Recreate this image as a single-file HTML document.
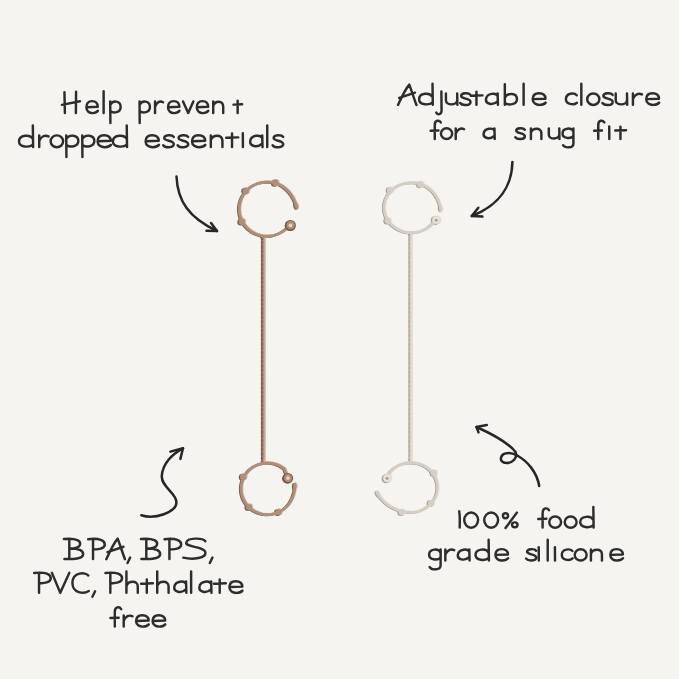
<!DOCTYPE html>
<html><head><meta charset="utf-8">
<style>
html,body{margin:0;padding:0;background:#f5f4f0;}
body{width:679px;height:679px;overflow:hidden;position:relative;font-family:"Liberation Sans",sans-serif;}
svg{position:absolute;left:0;top:0;}
</style></head><body>
<svg width="679" height="679" viewBox="0 0 679 679">
<g fill="none" stroke="#2d2d2d" stroke-linecap="round" stroke-linejoin="round">
<path d="M 64.45,92.20 L 64.89,113.00 M 76.06,91.75 L 75.89,113.00 M 61.88,104.86 L 79.94,101.24 M 86.94,107.16 L 97.78,106.73 C 97.60,102.26 94.59,101.11 92.02,101.11 C 88.14,101.11 86.42,103.98 86.42,107.41 C 86.42,111.28 89.44,113.20 92.62,113.10 C 95.02,113.00 96.92,112.14 97.86,110.77 M 103.63,91.32 L 103.63,113.00 M 110.22,101.40 L 110.40,123.00 M 110.22,104.84 C 112.63,99.96 120.63,100.44 120.63,106.99 C 120.63,113.00 113.06,113.50 110.40,110.85 M 139.53,101.40 L 139.70,123.00 M 139.53,104.84 C 141.93,99.96 149.93,100.44 149.93,106.99 C 149.93,113.00 142.36,113.50 139.70,110.85 M 155.03,101.40 L 155.03,113.00 M 155.03,106.99 C 156.57,102.26 160.01,100.44 163.02,102.26 M 168.54,107.16 L 179.38,106.73 C 179.21,102.26 176.19,101.11 173.62,101.11 C 169.75,101.11 168.03,103.98 168.03,107.41 C 168.03,111.28 171.03,113.20 174.22,113.10 C 176.62,113.00 178.52,112.14 179.46,110.77 M 183.03,101.40 L 188.19,113.00 L 193.34,101.40 M 197.34,107.16 L 208.18,106.73 C 208.00,102.26 204.99,101.11 202.41,101.11 C 198.54,101.11 196.82,103.98 196.82,107.41 C 196.82,111.28 199.83,113.20 203.02,113.10 C 205.42,113.00 207.32,112.14 208.26,110.77 M 213.22,101.40 L 213.22,113.00 M 213.22,106.13 C 214.77,100.44 223.20,99.96 223.20,106.56 L 223.20,113.00 M 237.65,100.80 L 237.65,113.00 M 233.53,104.60 L 242.12,104.20" stroke-width="2.45"/>
<path d="M 32.83,125.42 L 33.12,147.10 M 32.83,138.94 C 30.32,134.06 19.02,134.54 19.02,141.51 C 19.02,147.30 29.32,147.90 32.92,144.52 M 39.23,135.50 L 39.23,147.10 M 39.23,141.09 C 41.02,136.36 45.02,134.54 48.52,136.36 M 56.88,135.36 C 60.33,135.36 63.12,138.03 63.12,141.30 C 63.12,144.57 60.33,147.25 56.88,147.25 C 53.42,147.25 50.62,144.57 50.62,141.30 C 50.62,138.03 53.42,135.36 56.88,135.36 M 66.23,135.50 L 66.43,157.10 M 66.23,138.94 C 69.03,134.06 78.33,134.54 78.33,141.09 C 78.33,147.10 69.53,147.60 66.43,144.95 M 82.23,135.50 L 82.43,157.10 M 82.23,138.94 C 85.03,134.06 94.33,134.54 94.33,141.09 C 94.33,147.10 85.53,147.60 82.43,144.95 M 98.22,141.26 L 110.83,140.83 C 110.62,136.36 107.12,135.21 104.12,135.21 C 99.62,135.21 97.62,138.08 97.62,141.51 C 97.62,145.38 101.12,147.30 104.83,147.20 C 107.62,147.10 109.83,146.24 110.92,144.87 M 126.73,125.42 L 127.03,147.10 M 126.73,138.94 C 124.23,134.06 112.93,134.54 112.93,141.51 C 112.93,147.30 123.23,147.90 126.83,144.52 M 146.22,141.26 L 158.82,140.83 C 158.62,136.36 155.12,135.21 152.12,135.21 C 147.62,135.21 145.62,138.08 145.62,141.51 C 145.62,145.38 149.12,147.30 152.82,147.20 C 155.62,147.10 157.82,146.24 158.93,144.87 M 173.72,136.96 C 172.22,134.54 164.22,134.54 164.22,138.08 C 164.22,141.26 173.82,140.23 173.82,144.09 C 173.82,148.10 165.22,148.10 163.22,145.21 M 188.12,136.96 C 186.62,134.54 178.62,134.54 178.62,138.08 C 178.62,141.26 188.22,140.23 188.22,144.09 C 188.22,148.10 179.62,148.10 177.62,145.21 M 192.62,141.26 L 205.22,140.83 C 205.03,136.36 201.53,135.21 198.53,135.21 C 194.03,135.21 192.03,138.08 192.03,141.51 C 192.03,145.38 195.53,147.30 199.22,147.20 C 202.03,147.10 204.22,146.24 205.33,144.87 M 210.82,135.50 L 210.82,147.10 M 210.82,140.23 C 212.62,134.54 222.43,134.06 222.43,140.66 L 222.43,147.10 M 232.03,133.58 L 232.03,147.10 M 226.22,137.82 L 238.22,137.39 M 242.82,133.29 L 242.92,147.10 M 262.23,138.08 C 260.73,134.54 251.22,134.54 250.22,141.09 C 249.42,146.24 257.23,148.30 262.02,143.66 M 262.23,135.50 L 262.52,147.10 M 267.23,125.42 L 267.23,147.10 M 283.12,136.96 C 281.62,134.54 273.62,134.54 273.62,138.08 C 273.62,141.26 283.23,140.23 283.23,144.09 C 283.23,148.10 274.62,148.10 272.62,145.21" stroke-width="2.45"/>
<path d="M 398.03,104.99 C 400.94,98.66 404.82,89.89 409.28,84.62 C 411.61,90.76 414.03,98.66 416.46,104.99 M 399.19,97.96 L 415.00,92.69 M 432.51,83.77 L 432.80,104.80 M 432.51,96.88 C 430.09,92.15 419.12,92.62 419.12,99.38 C 419.12,104.99 429.12,105.58 432.61,102.30 M 441.37,91.41 L 441.56,110.62 C 441.56,114.98 437.20,114.98 436.23,112.56 M 445.93,93.55 L 445.93,100.22 C 445.93,105.77 456.89,105.77 457.18,100.22 M 457.18,93.55 L 457.37,104.80 M 470.41,94.96 C 468.96,92.62 461.20,92.62 461.20,96.05 C 461.20,99.13 470.51,98.13 470.51,101.88 C 470.51,105.77 462.17,105.77 460.23,102.97 M 476.45,91.69 L 476.45,104.80 M 470.83,95.80 L 482.47,95.38 M 497.64,96.05 C 496.19,92.62 486.97,92.62 486.00,98.97 C 485.23,103.97 492.79,105.96 497.45,101.47 M 497.64,93.55 L 497.93,104.80 M 504.83,84.24 L 504.83,104.80 M 504.83,97.72 C 506.96,92.62 516.95,92.62 516.95,99.13 C 516.95,104.80 508.41,105.58 504.83,102.97 M 523.62,83.77 L 523.62,104.80 M 533.31,99.13 L 545.53,98.72 C 545.34,94.38 541.94,93.27 539.03,93.27 C 534.67,93.27 532.73,96.05 532.73,99.38 C 532.73,103.13 536.12,104.99 539.71,104.90 C 542.43,104.80 544.56,103.97 545.63,102.63 M 576.69,95.21 C 574.46,92.62 566.02,92.62 565.92,99.13 C 565.83,104.13 573.49,105.77 576.88,102.72 M 581.33,83.77 L 581.33,104.80 M 593.29,93.41 C 596.64,93.41 599.35,96.00 599.35,99.17 C 599.35,102.35 596.64,104.95 593.29,104.95 C 589.94,104.95 587.23,102.35 587.23,99.17 C 587.23,96.00 589.94,93.41 593.29,93.41 M 612.61,94.96 C 611.16,92.62 603.40,92.62 603.40,96.05 C 603.40,99.13 612.71,98.13 612.71,101.88 C 612.71,105.77 604.37,105.77 602.43,102.97 M 615.72,93.55 L 615.72,100.22 C 615.72,105.77 626.69,105.77 626.98,100.22 M 626.98,93.55 L 627.17,104.80 M 632.92,93.55 L 632.92,104.80 M 632.92,98.97 C 634.67,94.38 638.55,92.62 641.95,94.38 M 646.81,99.13 L 659.03,98.72 C 658.84,94.38 655.44,93.27 652.53,93.27 C 648.17,93.27 646.23,96.05 646.23,99.38 C 646.23,103.13 649.62,104.99 653.21,104.90 C 655.93,104.80 658.06,103.97 659.13,102.63" stroke-width="2.45"/>
<path d="M 440.80,122.41 C 439.18,119.82 434.76,119.82 434.76,125.00 L 434.76,138.90 M 430.62,130.78 L 438.45,130.55 M 446.55,128.33 C 449.66,128.33 452.18,130.73 452.18,133.68 C 452.18,136.63 449.66,139.03 446.55,139.03 C 443.44,139.03 440.93,136.63 440.93,133.68 C 440.93,130.73 443.44,128.33 446.55,128.33 M 455.73,128.46 L 455.73,138.90 M 455.73,133.49 C 457.35,129.23 460.94,127.60 464.10,129.23 M 494.44,130.78 C 493.09,127.60 484.55,127.60 483.64,133.49 C 482.93,138.13 489.94,139.98 494.26,135.81 M 494.44,128.46 L 494.71,138.90 M 524.78,129.77 C 523.43,127.60 516.23,127.60 516.23,130.78 C 516.23,133.64 524.87,132.71 524.87,136.19 C 524.87,139.80 517.12,139.80 515.33,137.20 M 530.92,128.46 L 530.92,138.90 M 530.92,132.71 C 532.54,127.60 541.37,127.16 541.37,133.10 L 541.37,138.90 M 548.82,128.46 L 548.82,134.65 C 548.82,139.80 559.00,139.80 559.26,134.65 M 559.26,128.46 L 559.44,138.90 M 573.41,128.46 L 573.41,143.40 C 573.41,148.35 565.04,148.35 563.06,145.20 M 573.41,131.55 C 571.34,127.16 562.52,127.60 562.52,133.49 C 562.52,138.51 570.44,139.17 573.41,136.19 M 604.29,122.41 C 602.67,119.82 598.26,119.82 598.26,125.00 L 598.26,138.90 M 594.12,130.78 L 601.96,130.55 M 609.23,126.47 L 609.32,138.90 M 620.45,126.73 L 620.45,138.90 M 615.23,130.55 L 626.02,130.16" stroke-width="2.45"/>
<path d="M 69.31,539.06 L 69.31,559.00 M 63.93,539.06 C 77.65,537.73 80.59,541.72 80.09,544.38 C 79.61,547.92 73.73,548.54 69.31,548.54 C 78.62,548.36 83.53,550.58 83.13,554.57 C 82.55,559.00 73.73,559.20 64.42,559.00 M 93.03,539.06 L 93.03,559.00 M 88.12,539.24 C 99.89,537.73 104.78,540.83 104.78,544.38 C 104.78,548.81 97.92,549.69 93.03,549.25 M 106.32,559.20 C 109.26,552.80 113.18,543.93 117.69,538.62 C 120.04,544.82 122.49,552.80 124.94,559.20 M 107.50,552.09 L 123.47,546.77 M 130.17,557.53 L 127.52,562.92 M 146.31,539.06 L 146.31,559.00 M 140.92,539.06 C 154.64,537.73 157.58,541.72 157.09,544.38 C 156.60,547.92 150.72,548.54 146.31,548.54 C 155.62,548.36 160.52,550.58 160.13,554.57 C 159.54,559.00 150.72,559.20 141.41,559.00 M 169.43,539.06 L 169.43,559.00 M 164.53,539.24 C 176.28,537.73 181.19,540.83 181.19,544.38 C 181.19,548.81 174.33,549.69 169.43,549.25 M 205.38,541.27 C 202.92,537.73 187.24,537.29 186.26,542.60 C 185.28,547.48 204.39,546.15 205.38,552.35 C 206.35,558.11 193.12,559.98 183.32,557.67 M 212.47,557.53 L 209.83,562.92" stroke-width="2.45"/>
<path d="M 39.02,572.86 L 39.02,592.80 M 34.12,573.04 C 45.88,571.53 50.78,574.63 50.78,578.18 C 50.78,582.61 43.92,583.49 39.02,583.05 M 51.93,572.86 L 60.26,592.80 L 69.37,572.86 M 88.30,575.52 C 85.85,571.97 72.62,571.53 72.42,582.61 C 72.22,593.29 83.89,594.27 88.79,591.03 M 95.07,591.33 L 92.42,596.72 M 110.33,572.86 L 110.33,592.80 M 105.42,573.04 C 117.19,571.53 122.08,574.63 122.08,578.18 C 122.08,582.61 115.22,583.49 110.33,583.05 M 126.42,571.55 L 126.42,592.80 M 126.42,586.06 C 128.19,580.49 137.79,580.02 137.79,586.48 L 137.79,592.80 M 146.81,579.55 L 146.81,592.80 M 141.12,583.71 L 152.88,583.28 M 157.22,571.55 L 157.22,592.80 M 157.22,586.06 C 158.99,580.49 168.59,580.02 168.59,586.48 L 168.59,592.80 M 186.07,583.96 C 184.60,580.49 175.29,580.49 174.31,586.91 C 173.53,591.96 181.17,593.98 185.87,589.43 M 186.07,581.43 L 186.36,592.80 M 191.12,571.55 L 191.12,592.80 M 211.17,583.96 C 209.70,580.49 200.39,580.49 199.41,586.91 C 198.62,591.96 206.27,593.98 210.97,589.43 M 211.17,581.43 L 211.46,592.80 M 219.71,579.55 L 219.71,592.80 M 214.03,583.71 L 225.78,583.28 M 230.01,587.07 L 242.36,586.65 C 242.16,582.27 238.73,581.15 235.79,581.15 C 231.38,581.15 229.42,583.96 229.42,587.33 C 229.42,591.12 232.85,593.00 236.48,592.90 C 239.22,592.80 241.38,591.96 242.46,590.61" stroke-width="2.45"/>
<path d="M 121.16,609.10 C 119.45,606.36 114.80,606.36 114.80,611.83 L 114.80,626.50 M 110.42,617.93 L 118.69,617.68 M 123.72,615.48 L 123.72,626.50 M 123.72,620.79 C 125.44,616.30 129.23,614.57 132.56,616.30 M 136.69,620.95 L 148.66,620.54 C 148.47,616.30 145.15,615.21 142.30,615.21 C 138.03,615.21 136.12,617.93 136.12,621.19 C 136.12,624.87 139.45,626.69 142.97,626.60 C 145.62,626.50 147.72,625.68 148.76,624.38 M 153.19,620.95 L 165.16,620.54 C 164.97,616.30 161.65,615.21 158.80,615.21 C 154.53,615.21 152.62,617.93 152.62,621.19 C 152.62,624.87 155.95,626.69 159.47,626.60 C 162.12,626.50 164.22,625.68 165.26,624.38" stroke-width="2.45"/>
<path d="M 459.22,511.36 C 460.17,517.34 459.70,522.47 459.70,527.60 M 471.16,512.51 C 474.99,512.51 478.10,515.92 478.10,520.12 C 478.10,524.32 474.99,527.73 471.16,527.73 C 467.33,527.73 464.23,524.32 464.23,520.12 C 464.23,515.92 467.33,512.51 471.16,512.51 M 491.16,512.51 C 494.99,512.51 498.10,515.92 498.10,520.12 C 498.10,524.32 494.99,527.73 491.16,527.73 C 487.33,527.73 484.23,524.32 484.23,520.12 C 484.23,515.92 487.33,512.51 491.16,512.51 M 516.89,512.64 L 505.49,528.03 M 505.49,513.32 C 506.91,513.32 508.06,514.43 508.06,515.80 C 508.06,517.17 506.91,518.28 505.49,518.28 C 504.07,518.28 502.93,517.17 502.93,515.80 C 502.93,514.43 504.07,513.32 505.49,513.32 M 514.80,522.38 C 516.32,522.38 517.55,523.49 517.55,524.86 C 517.55,526.23 516.32,527.34 514.80,527.34 C 513.28,527.34 512.04,526.23 512.04,524.86 C 512.04,523.49 513.28,522.38 514.80,522.38 M 548.96,510.20 C 547.25,507.46 542.60,507.46 542.60,512.93 L 542.60,527.60 M 538.23,519.03 L 546.49,518.78 M 555.16,516.44 C 558.44,516.44 561.10,518.98 561.10,522.09 C 561.10,525.20 558.44,527.74 555.16,527.74 C 551.88,527.74 549.23,525.20 549.23,522.09 C 549.23,518.98 551.88,516.44 555.16,516.44 M 570.66,516.44 C 573.94,516.44 576.60,518.98 576.60,522.09 C 576.60,525.20 573.94,527.74 570.66,527.74 C 567.38,527.74 564.73,525.20 564.73,522.09 C 564.73,518.98 567.38,516.44 570.66,516.44 M 593.33,507.00 L 593.62,527.60 M 593.33,519.85 C 590.96,515.21 580.23,515.67 580.23,522.29 C 580.23,527.79 590.01,528.36 593.43,525.15" stroke-width="2.45"/>
<path d="M 440.62,549.38 L 440.62,565.15 C 440.62,570.38 431.79,570.38 429.69,567.05 M 440.62,552.65 C 438.44,548.01 429.12,548.47 429.12,554.69 C 429.12,559.99 437.49,560.68 440.62,557.54 M 445.33,549.38 L 445.33,560.40 M 445.33,554.69 C 447.04,550.20 450.84,548.47 454.16,550.20 M 469.28,551.83 C 467.86,548.47 458.83,548.47 457.88,554.69 C 457.12,559.58 464.53,561.54 469.09,557.13 M 469.28,549.38 L 469.57,560.40 M 488.64,539.80 L 488.92,560.40 M 488.64,552.65 C 486.26,548.01 475.53,548.47 475.53,555.09 C 475.53,560.59 485.31,561.16 488.73,557.95 M 496.00,554.85 L 507.97,554.44 C 507.78,550.20 504.45,549.11 501.60,549.11 C 497.32,549.11 495.43,551.83 495.43,555.09 C 495.43,558.77 498.75,560.59 502.26,560.50 C 504.93,560.40 507.01,559.58 508.06,558.28 M 536.10,550.77 C 534.67,548.47 527.08,548.47 527.08,551.83 C 527.08,554.85 536.20,553.87 536.20,557.54 C 536.20,561.35 528.02,561.35 526.12,558.60 M 538.73,547.28 L 538.82,560.40 M 547.72,539.80 L 547.72,560.40 M 554.93,547.28 L 555.02,560.40 M 572.37,551.01 C 570.18,548.47 561.91,548.47 561.82,554.85 C 561.73,559.75 569.23,561.35 572.55,558.36 M 580.66,549.24 C 583.94,549.24 586.60,551.78 586.60,554.89 C 586.60,558.00 583.94,560.54 580.66,560.54 C 577.38,560.54 574.73,558.00 574.73,554.89 C 574.73,551.78 577.38,549.24 580.66,549.24 M 590.93,549.38 L 590.93,560.40 M 590.93,553.87 C 592.63,548.47 601.95,548.01 601.95,554.28 L 601.95,560.40 M 610.90,554.85 L 622.87,554.44 C 622.68,550.20 619.35,549.11 616.50,549.11 C 612.23,549.11 610.33,551.83 610.33,555.09 C 610.33,558.77 613.65,560.59 617.17,560.50 C 619.83,560.40 621.92,559.58 622.96,558.28" stroke-width="2.45"/>
</g>
<g fill="none" stroke="#262626" stroke-width="2.5" stroke-linecap="round" stroke-linejoin="round">
<path d="M176.5,176.5 C177.5,201 189,218 217,231"/>
<path d="M211,223 L217,231 L206.5,230.7"/>
<path d="M512.4,162 C512,185 500,205 471.8,216"/>
<path d="M478.3,207.7 L471.8,216 L482.4,216.6"/>
<path d="M141.3,515.2 C155,520 176,512 176.4,502.6 C177,493 161,487 161.8,476 C162.5,464 172,454 183,448.3"/>
<path d="M170.4,451.6 L183,448.3 L180.4,458.9"/>
<path d="M476.5,427 C492,434 508,442 515.5,452 C518,458 512,463 507.4,463 C503,463 500.5,461 500.9,458.3 C501.5,454 506,453 509,453 C513,453 516,455 518,456 C527,461 537,472 539.2,486"/>
<path d="M486.8,425.1 L476.5,427 L478.5,432.4"/>
</g>

<g fill="none" stroke-linecap="round" stroke-linejoin="round">
<line x1="263.3" y1="237.0" x2="263.3" y2="462.0" stroke="#aa8b77" stroke-width="4.0" stroke-linecap="butt"/>
<line x1="261.8" y1="237.0" x2="261.8" y2="462.0" stroke="#7e604e" stroke-width="1.9" stroke-dasharray="2.6 1.8" stroke-linecap="round"/>
<line x1="264.6" y1="237.0" x2="264.6" y2="462.0" stroke="#c8aa96" stroke-width="1.8" stroke-dasharray="2.6 1.8" stroke-dashoffset="2.2" stroke-linecap="round"/>
<line x1="410.5" y1="233.0" x2="410.5" y2="461.0" stroke="#d6cec4" stroke-width="4.4" stroke-linecap="butt"/>
<line x1="409.1" y1="233.0" x2="409.1" y2="461.0" stroke="#bcb2a7" stroke-width="1.8" stroke-dasharray="2.8 1.8" stroke-linecap="round"/>
<line x1="411.8" y1="233.0" x2="411.8" y2="461.0" stroke="#e6e0d8" stroke-width="1.6" stroke-dasharray="2.8 1.8" stroke-dashoffset="2.2" stroke-linecap="round"/>
<g transform="translate(-0.9,0.35)"><path d="M290.30,225.50 L285.03,229.86 L283.88,230.75 L282.69,231.58 L281.45,232.34 L280.16,233.05 L278.85,233.68 L277.50,234.25 L276.12,234.74 L274.72,235.17 L273.29,235.52 L271.85,235.80 L270.40,236.01 L268.93,236.14 L267.46,236.20 L265.99,236.18 L264.53,236.08 L263.07,235.92 L261.62,235.67 L260.18,235.35 L258.77,234.96 L257.38,234.50 L256.01,233.97 L254.68,233.37 L253.38,232.70 L252.12,231.96 L250.90,231.17 L249.73,230.31 L248.60,229.39 L247.53,228.41 L246.51,227.38 L245.54,226.31 L244.64,225.18 L243.80,224.01 L243.02,222.79 L242.32,221.54 L241.67,220.26 L241.10,218.94 L240.61,217.60 L240.18,216.23 L239.83,214.84 L239.56,213.44 L239.36,212.02 L239.24,210.60 L239.20,209.17 L239.23,207.75 L239.35,206.32 L239.54,204.91 L239.80,203.50 L240.14,202.11 L240.56,200.74 L241.05,199.40 L241.61,198.08 L242.25,196.79 L242.95,195.53 L243.72,194.32 L244.55,193.14 L245.45,192.01 L246.40,190.93 L247.42,189.89 L248.49,188.91 L249.61,187.99 L250.78,187.12 L251.99,186.32 L253.25,185.58 L254.54,184.90 L255.87,184.29 L257.24,183.75 L258.62,183.28 L260.04,182.88 L261.47,182.56 L262.91,182.31 L264.37,182.13 L265.84,182.03 L267.31,182.00 L268.78,182.05 L270.24,182.17 L271.70,182.37 L273.14,182.64 L274.57,182.99 L275.98,183.41 L277.36,183.90 L278.71,184.46 L280.03,185.09 L281.31,185.78 L282.56,186.54 L283.76,187.36 L284.92,188.25 L286.02,189.19 L287.08,190.18 L288.08,191.22 L289.05,192.30 L289.96,193.42 L290.84,194.58 L291.66,195.78 L292.43,197.02 L293.15,198.29 L293.82,199.59 L294.44,200.93 L295.00,202.30 L295.51,203.71 L295.95,205.14 L296.33,206.61 L296.66,208.10" stroke="#765846" stroke-width="2.60"/><ellipse cx="296.2" cy="205.9" rx="3.30" ry="2.00" transform="rotate(77.8 296.2 205.9)" fill="#765846"/><path d="M259.5,235.5 L267.1,235.5 L263.3,239.8 Z" fill="#765846"/><circle cx="290.3" cy="225.5" r="4.70" fill="#765846"/><circle cx="245.7" cy="190.9" r="3.50" fill="#765846"/><circle cx="275.3" cy="182.8" r="3.50" fill="#765846"/><circle cx="241.7" cy="221.6" r="3.50" fill="#765846"/></g>
<g transform="translate(0.9,-0.35)"><path d="M290.30,225.50 L285.03,229.86 L283.88,230.75 L282.69,231.58 L281.45,232.34 L280.16,233.05 L278.85,233.68 L277.50,234.25 L276.12,234.74 L274.72,235.17 L273.29,235.52 L271.85,235.80 L270.40,236.01 L268.93,236.14 L267.46,236.20 L265.99,236.18 L264.53,236.08 L263.07,235.92 L261.62,235.67 L260.18,235.35 L258.77,234.96 L257.38,234.50 L256.01,233.97 L254.68,233.37 L253.38,232.70 L252.12,231.96 L250.90,231.17 L249.73,230.31 L248.60,229.39 L247.53,228.41 L246.51,227.38 L245.54,226.31 L244.64,225.18 L243.80,224.01 L243.02,222.79 L242.32,221.54 L241.67,220.26 L241.10,218.94 L240.61,217.60 L240.18,216.23 L239.83,214.84 L239.56,213.44 L239.36,212.02 L239.24,210.60 L239.20,209.17 L239.23,207.75 L239.35,206.32 L239.54,204.91 L239.80,203.50 L240.14,202.11 L240.56,200.74 L241.05,199.40 L241.61,198.08 L242.25,196.79 L242.95,195.53 L243.72,194.32 L244.55,193.14 L245.45,192.01 L246.40,190.93 L247.42,189.89 L248.49,188.91 L249.61,187.99 L250.78,187.12 L251.99,186.32 L253.25,185.58 L254.54,184.90 L255.87,184.29 L257.24,183.75 L258.62,183.28 L260.04,182.88 L261.47,182.56 L262.91,182.31 L264.37,182.13 L265.84,182.03 L267.31,182.00 L268.78,182.05 L270.24,182.17 L271.70,182.37 L273.14,182.64 L274.57,182.99 L275.98,183.41 L277.36,183.90 L278.71,184.46 L280.03,185.09 L281.31,185.78 L282.56,186.54 L283.76,187.36 L284.92,188.25 L286.02,189.19 L287.08,190.18 L288.08,191.22 L289.05,192.30 L289.96,193.42 L290.84,194.58 L291.66,195.78 L292.43,197.02 L293.15,198.29 L293.82,199.59 L294.44,200.93 L295.00,202.30 L295.51,203.71 L295.95,205.14 L296.33,206.61 L296.66,208.10" stroke="#d5baa7" stroke-width="2.60"/><ellipse cx="296.2" cy="205.9" rx="3.30" ry="2.00" transform="rotate(77.8 296.2 205.9)" fill="#d5baa7"/><path d="M259.5,235.5 L267.1,235.5 L263.3,239.8 Z" fill="#d5baa7"/><circle cx="290.3" cy="225.5" r="4.70" fill="#d5baa7"/><circle cx="245.7" cy="190.9" r="3.50" fill="#d5baa7"/><circle cx="275.3" cy="182.8" r="3.50" fill="#d5baa7"/><circle cx="241.7" cy="221.6" r="3.50" fill="#d5baa7"/></g>
<path d="M290.30,225.50 L285.03,229.86 L283.88,230.75 L282.69,231.58 L281.45,232.34 L280.16,233.05 L278.85,233.68 L277.50,234.25 L276.12,234.74 L274.72,235.17 L273.29,235.52 L271.85,235.80 L270.40,236.01 L268.93,236.14 L267.46,236.20 L265.99,236.18 L264.53,236.08 L263.07,235.92 L261.62,235.67 L260.18,235.35 L258.77,234.96 L257.38,234.50 L256.01,233.97 L254.68,233.37 L253.38,232.70 L252.12,231.96 L250.90,231.17 L249.73,230.31 L248.60,229.39 L247.53,228.41 L246.51,227.38 L245.54,226.31 L244.64,225.18 L243.80,224.01 L243.02,222.79 L242.32,221.54 L241.67,220.26 L241.10,218.94 L240.61,217.60 L240.18,216.23 L239.83,214.84 L239.56,213.44 L239.36,212.02 L239.24,210.60 L239.20,209.17 L239.23,207.75 L239.35,206.32 L239.54,204.91 L239.80,203.50 L240.14,202.11 L240.56,200.74 L241.05,199.40 L241.61,198.08 L242.25,196.79 L242.95,195.53 L243.72,194.32 L244.55,193.14 L245.45,192.01 L246.40,190.93 L247.42,189.89 L248.49,188.91 L249.61,187.99 L250.78,187.12 L251.99,186.32 L253.25,185.58 L254.54,184.90 L255.87,184.29 L257.24,183.75 L258.62,183.28 L260.04,182.88 L261.47,182.56 L262.91,182.31 L264.37,182.13 L265.84,182.03 L267.31,182.00 L268.78,182.05 L270.24,182.17 L271.70,182.37 L273.14,182.64 L274.57,182.99 L275.98,183.41 L277.36,183.90 L278.71,184.46 L280.03,185.09 L281.31,185.78 L282.56,186.54 L283.76,187.36 L284.92,188.25 L286.02,189.19 L287.08,190.18 L288.08,191.22 L289.05,192.30 L289.96,193.42 L290.84,194.58 L291.66,195.78 L292.43,197.02 L293.15,198.29 L293.82,199.59 L294.44,200.93 L295.00,202.30 L295.51,203.71 L295.95,205.14 L296.33,206.61 L296.66,208.10" stroke="#ae8f7a" stroke-width="2.80"/>
<ellipse cx="296.2" cy="205.9" rx="3.00" ry="1.70" transform="rotate(77.8 296.2 205.9)" fill="#ae8f7a"/>
<path d="M259.8,235.5 L266.8,235.5 L263.3,239.5 Z" fill="#ae8f7a"/>
<circle cx="290.3" cy="225.5" r="4.40" fill="#ae8f7a"/>
<circle cx="245.7" cy="190.9" r="3.20" fill="#ae8f7a"/>
<circle cx="275.3" cy="182.8" r="3.20" fill="#ae8f7a"/>
<circle cx="241.7" cy="221.6" r="3.20" fill="#ae8f7a"/>
<circle cx="290.3" cy="225.5" r="5.5" fill="#765846"/>
<circle cx="290.6" cy="225.2" r="4.1" fill="#ae8f7a"/>
<circle cx="290.5" cy="225.3" r="1.9" fill="#e6d2bf"/>
<g transform="translate(-0.9,0.35)"><path d="M287.70,478.30 L284.47,469.04 L283.38,468.19 L282.25,467.40 L281.07,466.67 L279.86,466.00 L278.62,465.40 L277.34,464.86 L276.04,464.39 L274.71,463.98 L273.36,463.64 L272.00,463.38 L270.62,463.18 L269.24,463.06 L267.85,463.00 L266.46,463.02 L265.07,463.11 L263.69,463.27 L262.32,463.50 L260.96,463.80 L259.62,464.18 L258.31,464.61 L257.02,465.12 L255.76,465.69 L254.53,466.33 L253.33,467.03 L252.18,467.79 L251.07,468.61 L250.00,469.48 L248.99,470.41 L248.02,471.39 L247.11,472.41 L246.25,473.48 L245.46,474.60 L244.72,475.75 L244.05,476.94 L243.45,478.17 L242.91,479.42 L242.44,480.70 L242.03,482.00 L241.70,483.32 L241.44,484.65 L241.26,486.00 L241.14,487.36 L241.10,488.72 L241.13,490.07 L241.24,491.43 L241.42,492.78 L241.67,494.11 L241.99,495.44 L242.38,496.74 L242.84,498.02 L243.38,499.28 L243.97,500.51 L244.64,501.70 L245.36,502.86 L246.15,503.98 L247.00,505.06 L247.90,506.09 L248.86,507.07 L249.87,508.01 L250.93,508.89 L252.04,509.71 L253.19,510.48 L254.38,511.19 L255.60,511.83 L256.86,512.41 L258.14,512.93 L259.46,513.37 L260.79,513.75 L262.15,514.06 L263.52,514.30 L264.90,514.47 L266.28,514.57 L267.67,514.60 L269.06,514.55 L270.45,514.44 L271.83,514.25 L273.19,513.99 L274.54,513.67 L275.87,513.27 L277.18,512.80 L278.46,512.27 L279.71,511.68 L280.93,511.01 L282.10,510.29 L283.24,509.51 L284.34,508.67 L285.38,507.78 L286.38,506.83 L287.33,505.84 L288.22,504.79 L289.05,503.70 L289.82,502.57 L290.54,501.40 L291.19,500.21 L291.80,498.98 L292.35,497.73 L292.85,496.46 L293.30,495.16 L293.69,493.84 L294.03,492.50 L294.31,491.14 L294.53,489.76 L294.69,488.36 L294.79,486.95 L294.82,485.53 L294.80,484.10" stroke="#765846" stroke-width="2.60"/><ellipse cx="294.8" cy="486.3" rx="3.30" ry="2.00" transform="rotate(-91.0 294.8 486.3)" fill="#765846"/><path d="M259.5,464.5 L267.1,464.5 L263.3,460.2 Z" fill="#765846"/><circle cx="287.7" cy="478.3" r="4.60" fill="#765846"/><circle cx="243.2" cy="476.9" r="3.50" fill="#765846"/><circle cx="248.9" cy="507.1" r="3.50" fill="#765846"/><circle cx="278.4" cy="512.1" r="3.50" fill="#765846"/></g>
<g transform="translate(0.9,-0.35)"><path d="M287.70,478.30 L284.47,469.04 L283.38,468.19 L282.25,467.40 L281.07,466.67 L279.86,466.00 L278.62,465.40 L277.34,464.86 L276.04,464.39 L274.71,463.98 L273.36,463.64 L272.00,463.38 L270.62,463.18 L269.24,463.06 L267.85,463.00 L266.46,463.02 L265.07,463.11 L263.69,463.27 L262.32,463.50 L260.96,463.80 L259.62,464.18 L258.31,464.61 L257.02,465.12 L255.76,465.69 L254.53,466.33 L253.33,467.03 L252.18,467.79 L251.07,468.61 L250.00,469.48 L248.99,470.41 L248.02,471.39 L247.11,472.41 L246.25,473.48 L245.46,474.60 L244.72,475.75 L244.05,476.94 L243.45,478.17 L242.91,479.42 L242.44,480.70 L242.03,482.00 L241.70,483.32 L241.44,484.65 L241.26,486.00 L241.14,487.36 L241.10,488.72 L241.13,490.07 L241.24,491.43 L241.42,492.78 L241.67,494.11 L241.99,495.44 L242.38,496.74 L242.84,498.02 L243.38,499.28 L243.97,500.51 L244.64,501.70 L245.36,502.86 L246.15,503.98 L247.00,505.06 L247.90,506.09 L248.86,507.07 L249.87,508.01 L250.93,508.89 L252.04,509.71 L253.19,510.48 L254.38,511.19 L255.60,511.83 L256.86,512.41 L258.14,512.93 L259.46,513.37 L260.79,513.75 L262.15,514.06 L263.52,514.30 L264.90,514.47 L266.28,514.57 L267.67,514.60 L269.06,514.55 L270.45,514.44 L271.83,514.25 L273.19,513.99 L274.54,513.67 L275.87,513.27 L277.18,512.80 L278.46,512.27 L279.71,511.68 L280.93,511.01 L282.10,510.29 L283.24,509.51 L284.34,508.67 L285.38,507.78 L286.38,506.83 L287.33,505.84 L288.22,504.79 L289.05,503.70 L289.82,502.57 L290.54,501.40 L291.19,500.21 L291.80,498.98 L292.35,497.73 L292.85,496.46 L293.30,495.16 L293.69,493.84 L294.03,492.50 L294.31,491.14 L294.53,489.76 L294.69,488.36 L294.79,486.95 L294.82,485.53 L294.80,484.10" stroke="#d5baa7" stroke-width="2.60"/><ellipse cx="294.8" cy="486.3" rx="3.30" ry="2.00" transform="rotate(-91.0 294.8 486.3)" fill="#d5baa7"/><path d="M259.5,464.5 L267.1,464.5 L263.3,460.2 Z" fill="#d5baa7"/><circle cx="287.7" cy="478.3" r="4.60" fill="#d5baa7"/><circle cx="243.2" cy="476.9" r="3.50" fill="#d5baa7"/><circle cx="248.9" cy="507.1" r="3.50" fill="#d5baa7"/><circle cx="278.4" cy="512.1" r="3.50" fill="#d5baa7"/></g>
<path d="M287.70,478.30 L284.47,469.04 L283.38,468.19 L282.25,467.40 L281.07,466.67 L279.86,466.00 L278.62,465.40 L277.34,464.86 L276.04,464.39 L274.71,463.98 L273.36,463.64 L272.00,463.38 L270.62,463.18 L269.24,463.06 L267.85,463.00 L266.46,463.02 L265.07,463.11 L263.69,463.27 L262.32,463.50 L260.96,463.80 L259.62,464.18 L258.31,464.61 L257.02,465.12 L255.76,465.69 L254.53,466.33 L253.33,467.03 L252.18,467.79 L251.07,468.61 L250.00,469.48 L248.99,470.41 L248.02,471.39 L247.11,472.41 L246.25,473.48 L245.46,474.60 L244.72,475.75 L244.05,476.94 L243.45,478.17 L242.91,479.42 L242.44,480.70 L242.03,482.00 L241.70,483.32 L241.44,484.65 L241.26,486.00 L241.14,487.36 L241.10,488.72 L241.13,490.07 L241.24,491.43 L241.42,492.78 L241.67,494.11 L241.99,495.44 L242.38,496.74 L242.84,498.02 L243.38,499.28 L243.97,500.51 L244.64,501.70 L245.36,502.86 L246.15,503.98 L247.00,505.06 L247.90,506.09 L248.86,507.07 L249.87,508.01 L250.93,508.89 L252.04,509.71 L253.19,510.48 L254.38,511.19 L255.60,511.83 L256.86,512.41 L258.14,512.93 L259.46,513.37 L260.79,513.75 L262.15,514.06 L263.52,514.30 L264.90,514.47 L266.28,514.57 L267.67,514.60 L269.06,514.55 L270.45,514.44 L271.83,514.25 L273.19,513.99 L274.54,513.67 L275.87,513.27 L277.18,512.80 L278.46,512.27 L279.71,511.68 L280.93,511.01 L282.10,510.29 L283.24,509.51 L284.34,508.67 L285.38,507.78 L286.38,506.83 L287.33,505.84 L288.22,504.79 L289.05,503.70 L289.82,502.57 L290.54,501.40 L291.19,500.21 L291.80,498.98 L292.35,497.73 L292.85,496.46 L293.30,495.16 L293.69,493.84 L294.03,492.50 L294.31,491.14 L294.53,489.76 L294.69,488.36 L294.79,486.95 L294.82,485.53 L294.80,484.10" stroke="#ae8f7a" stroke-width="2.80"/>
<ellipse cx="294.8" cy="486.3" rx="3.00" ry="1.70" transform="rotate(-91.0 294.8 486.3)" fill="#ae8f7a"/>
<path d="M259.8,464.5 L266.8,464.5 L263.3,460.5 Z" fill="#ae8f7a"/>
<circle cx="287.7" cy="478.3" r="4.30" fill="#ae8f7a"/>
<circle cx="243.2" cy="476.9" r="3.20" fill="#ae8f7a"/>
<circle cx="248.9" cy="507.1" r="3.20" fill="#ae8f7a"/>
<circle cx="278.4" cy="512.1" r="3.20" fill="#ae8f7a"/>
<circle cx="287.7" cy="478.3" r="5.4" fill="#765846"/>
<circle cx="288.0" cy="478.0" r="4.0" fill="#ae8f7a"/>
<circle cx="287.9" cy="478.1" r="1.9" fill="#e6d2bf"/>
<g transform="translate(-0.9,0.35)"><path d="M436.20,220.20 L432.49,223.77 L431.53,224.76 L430.52,225.69 L429.46,226.58 L428.34,227.42 L427.18,228.20 L425.97,228.93 L424.73,229.59 L423.45,230.20 L422.13,230.74 L420.79,231.22 L419.42,231.63 L418.03,231.98 L416.62,232.26 L415.19,232.47 L413.76,232.62 L412.31,232.69 L410.87,232.69 L409.43,232.63 L407.99,232.49 L406.57,232.29 L405.16,232.02 L403.76,231.68 L402.39,231.28 L401.04,230.81 L399.72,230.27 L398.43,229.67 L397.18,229.02 L395.97,228.30 L394.81,227.52 L393.68,226.69 L392.61,225.81 L391.59,224.88 L390.63,223.90 L389.72,222.87 L388.88,221.81 L388.10,220.70 L387.38,219.56 L386.73,218.38 L386.15,217.18 L385.63,215.95 L385.19,214.69 L384.83,213.42 L384.53,212.13 L384.32,210.83 L384.17,209.52 L384.11,208.20 L384.11,206.88 L384.20,205.57 L384.36,204.26 L384.60,202.96 L384.91,201.68 L385.29,200.41 L385.75,199.16 L386.28,197.93 L386.88,196.73 L387.54,195.57 L388.28,194.43 L389.08,193.33 L389.94,192.28 L390.86,191.26 L391.83,190.29 L392.87,189.37 L393.95,188.50 L395.08,187.69 L396.26,186.92 L397.48,186.22 L398.74,185.58 L400.03,184.99 L401.36,184.48 L402.71,184.02 L404.09,183.63 L405.49,183.31 L406.91,183.05 L408.34,182.87 L409.77,182.75 L411.22,182.70 L412.66,182.72 L414.10,182.81 L415.53,182.97 L416.95,183.20 L418.36,183.50 L419.75,183.86 L421.11,184.29 L422.45,184.78 L423.76,185.34 L425.03,185.96 L426.27,186.64 L427.46,187.38 L428.61,188.18 L429.72,189.02 L430.77,189.93 L431.77,190.88 L432.71,191.87 L433.61,192.91 L434.46,193.97 L435.26,195.07 L436.02,196.20 L436.73,197.36 L437.39,198.55 L438.01,199.77 L438.57,201.02 L439.08,202.30 L439.53,203.61 L439.93,204.94 L440.27,206.30 L440.55,207.68 L440.77,209.09 L440.93,210.52" stroke="#a59c92" stroke-width="2.60"/><ellipse cx="440.7" cy="208.3" rx="3.30" ry="2.00" transform="rotate(83.8 440.7 208.3)" fill="#a59c92"/><path d="M406.7,231.5 L414.3,231.5 L410.5,235.8 Z" fill="#a59c92"/><circle cx="436.2" cy="220.2" r="4.60" fill="#a59c92"/><circle cx="390.1" cy="190.2" r="3.50" fill="#a59c92"/><circle cx="420.5" cy="184.4" r="3.50" fill="#a59c92"/><circle cx="387.7" cy="220.6" r="3.50" fill="#a59c92"/></g>
<g transform="translate(0.9,-0.35)"><path d="M436.20,220.20 L432.49,223.77 L431.53,224.76 L430.52,225.69 L429.46,226.58 L428.34,227.42 L427.18,228.20 L425.97,228.93 L424.73,229.59 L423.45,230.20 L422.13,230.74 L420.79,231.22 L419.42,231.63 L418.03,231.98 L416.62,232.26 L415.19,232.47 L413.76,232.62 L412.31,232.69 L410.87,232.69 L409.43,232.63 L407.99,232.49 L406.57,232.29 L405.16,232.02 L403.76,231.68 L402.39,231.28 L401.04,230.81 L399.72,230.27 L398.43,229.67 L397.18,229.02 L395.97,228.30 L394.81,227.52 L393.68,226.69 L392.61,225.81 L391.59,224.88 L390.63,223.90 L389.72,222.87 L388.88,221.81 L388.10,220.70 L387.38,219.56 L386.73,218.38 L386.15,217.18 L385.63,215.95 L385.19,214.69 L384.83,213.42 L384.53,212.13 L384.32,210.83 L384.17,209.52 L384.11,208.20 L384.11,206.88 L384.20,205.57 L384.36,204.26 L384.60,202.96 L384.91,201.68 L385.29,200.41 L385.75,199.16 L386.28,197.93 L386.88,196.73 L387.54,195.57 L388.28,194.43 L389.08,193.33 L389.94,192.28 L390.86,191.26 L391.83,190.29 L392.87,189.37 L393.95,188.50 L395.08,187.69 L396.26,186.92 L397.48,186.22 L398.74,185.58 L400.03,184.99 L401.36,184.48 L402.71,184.02 L404.09,183.63 L405.49,183.31 L406.91,183.05 L408.34,182.87 L409.77,182.75 L411.22,182.70 L412.66,182.72 L414.10,182.81 L415.53,182.97 L416.95,183.20 L418.36,183.50 L419.75,183.86 L421.11,184.29 L422.45,184.78 L423.76,185.34 L425.03,185.96 L426.27,186.64 L427.46,187.38 L428.61,188.18 L429.72,189.02 L430.77,189.93 L431.77,190.88 L432.71,191.87 L433.61,192.91 L434.46,193.97 L435.26,195.07 L436.02,196.20 L436.73,197.36 L437.39,198.55 L438.01,199.77 L438.57,201.02 L439.08,202.30 L439.53,203.61 L439.93,204.94 L440.27,206.30 L440.55,207.68 L440.77,209.09 L440.93,210.52" stroke="#ebe6df" stroke-width="2.60"/><ellipse cx="440.7" cy="208.3" rx="3.30" ry="2.00" transform="rotate(83.8 440.7 208.3)" fill="#ebe6df"/><path d="M406.7,231.5 L414.3,231.5 L410.5,235.8 Z" fill="#ebe6df"/><circle cx="436.2" cy="220.2" r="4.60" fill="#ebe6df"/><circle cx="390.1" cy="190.2" r="3.50" fill="#ebe6df"/><circle cx="420.5" cy="184.4" r="3.50" fill="#ebe6df"/><circle cx="387.7" cy="220.6" r="3.50" fill="#ebe6df"/></g>
<path d="M436.20,220.20 L432.49,223.77 L431.53,224.76 L430.52,225.69 L429.46,226.58 L428.34,227.42 L427.18,228.20 L425.97,228.93 L424.73,229.59 L423.45,230.20 L422.13,230.74 L420.79,231.22 L419.42,231.63 L418.03,231.98 L416.62,232.26 L415.19,232.47 L413.76,232.62 L412.31,232.69 L410.87,232.69 L409.43,232.63 L407.99,232.49 L406.57,232.29 L405.16,232.02 L403.76,231.68 L402.39,231.28 L401.04,230.81 L399.72,230.27 L398.43,229.67 L397.18,229.02 L395.97,228.30 L394.81,227.52 L393.68,226.69 L392.61,225.81 L391.59,224.88 L390.63,223.90 L389.72,222.87 L388.88,221.81 L388.10,220.70 L387.38,219.56 L386.73,218.38 L386.15,217.18 L385.63,215.95 L385.19,214.69 L384.83,213.42 L384.53,212.13 L384.32,210.83 L384.17,209.52 L384.11,208.20 L384.11,206.88 L384.20,205.57 L384.36,204.26 L384.60,202.96 L384.91,201.68 L385.29,200.41 L385.75,199.16 L386.28,197.93 L386.88,196.73 L387.54,195.57 L388.28,194.43 L389.08,193.33 L389.94,192.28 L390.86,191.26 L391.83,190.29 L392.87,189.37 L393.95,188.50 L395.08,187.69 L396.26,186.92 L397.48,186.22 L398.74,185.58 L400.03,184.99 L401.36,184.48 L402.71,184.02 L404.09,183.63 L405.49,183.31 L406.91,183.05 L408.34,182.87 L409.77,182.75 L411.22,182.70 L412.66,182.72 L414.10,182.81 L415.53,182.97 L416.95,183.20 L418.36,183.50 L419.75,183.86 L421.11,184.29 L422.45,184.78 L423.76,185.34 L425.03,185.96 L426.27,186.64 L427.46,187.38 L428.61,188.18 L429.72,189.02 L430.77,189.93 L431.77,190.88 L432.71,191.87 L433.61,192.91 L434.46,193.97 L435.26,195.07 L436.02,196.20 L436.73,197.36 L437.39,198.55 L438.01,199.77 L438.57,201.02 L439.08,202.30 L439.53,203.61 L439.93,204.94 L440.27,206.30 L440.55,207.68 L440.77,209.09 L440.93,210.52" stroke="#d5cec5" stroke-width="2.80"/>
<ellipse cx="440.7" cy="208.3" rx="3.00" ry="1.70" transform="rotate(83.8 440.7 208.3)" fill="#d5cec5"/>
<path d="M407.0,231.5 L414.0,231.5 L410.5,235.5 Z" fill="#d5cec5"/>
<circle cx="436.2" cy="220.2" r="4.30" fill="#d5cec5"/>
<circle cx="390.1" cy="190.2" r="3.20" fill="#d5cec5"/>
<circle cx="420.5" cy="184.4" r="3.20" fill="#d5cec5"/>
<circle cx="387.7" cy="220.6" r="3.20" fill="#d5cec5"/>
<circle cx="436.4" cy="220.0" r="3.5" fill="#ebe6df"/>
<circle cx="436.2" cy="220.2" r="1.6" fill="#aea498"/>
<g transform="translate(-0.9,0.35)"><path d="M387.10,478.30 L386.98,477.02 L387.60,475.86 L388.29,474.73 L389.03,473.63 L389.84,472.57 L390.70,471.56 L391.62,470.59 L392.59,469.66 L393.61,468.78 L394.68,467.96 L395.80,467.19 L396.96,466.47 L398.15,465.81 L399.38,465.21 L400.65,464.67 L401.94,464.20 L403.25,463.78 L404.59,463.44 L405.94,463.16 L407.31,462.94 L408.69,462.79 L410.08,462.72 L411.46,462.70 L412.85,462.76 L414.23,462.88 L415.60,463.08 L416.96,463.34 L418.30,463.66 L419.63,464.05 L420.93,464.51 L422.20,465.02 L423.44,465.60 L424.65,466.24 L425.82,466.94 L426.95,467.69 L428.03,468.50 L429.07,469.36 L430.06,470.27 L431.00,471.23 L431.88,472.23 L432.71,473.28 L433.47,474.36 L434.18,475.48 L434.82,476.63 L435.39,477.81 L435.90,479.02 L436.34,480.25 L436.71,481.50 L437.01,482.77 L437.24,484.05 L437.40,485.34 L437.48,486.63 L437.50,487.93 L437.44,489.23 L437.30,490.52 L437.10,491.81 L436.82,493.08 L436.47,494.34 L436.06,495.57 L435.57,496.79 L435.02,497.98 L434.40,499.14 L433.71,500.27 L432.97,501.37 L432.16,502.43 L431.30,503.44 L430.38,504.41 L429.41,505.34 L428.39,506.22 L427.32,507.04 L426.20,507.81 L425.04,508.53 L423.85,509.19 L422.62,509.79 L421.35,510.33 L420.06,510.80 L418.75,511.22 L417.41,511.56 L416.06,511.84 L414.69,512.06 L413.31,512.21 L411.92,512.28 L410.54,512.30 L409.15,512.26 L407.76,512.17 L406.38,512.03 L404.99,511.85 L403.61,511.61 L402.23,511.33 L400.86,510.99 L399.49,510.60 L398.12,510.16 L396.77,509.67 L395.42,509.12 L394.08,508.52 L392.75,507.85 L391.44,507.13 L390.14,506.35 L388.86,505.51 L387.60,504.61 L386.36,503.64 L385.15,502.61 L383.97,501.52 L382.83,500.36 L381.72,499.13 L380.65,497.84 L379.63,496.47 L378.66,495.05 L377.74,493.55 L376.89,491.99" stroke="#a59c92" stroke-width="2.60"/><ellipse cx="377.9" cy="493.9" rx="3.30" ry="2.00" transform="rotate(-118.8 377.9 493.9)" fill="#a59c92"/><path d="M406.7,464.0 L414.3,464.0 L410.5,459.7 Z" fill="#a59c92"/><circle cx="387.1" cy="478.3" r="4.60" fill="#a59c92"/><circle cx="433.9" cy="473.0" r="3.50" fill="#a59c92"/><circle cx="431.0" cy="503.2" r="3.50" fill="#a59c92"/><circle cx="401.7" cy="512.2" r="3.50" fill="#a59c92"/></g>
<g transform="translate(0.9,-0.35)"><path d="M387.10,478.30 L386.98,477.02 L387.60,475.86 L388.29,474.73 L389.03,473.63 L389.84,472.57 L390.70,471.56 L391.62,470.59 L392.59,469.66 L393.61,468.78 L394.68,467.96 L395.80,467.19 L396.96,466.47 L398.15,465.81 L399.38,465.21 L400.65,464.67 L401.94,464.20 L403.25,463.78 L404.59,463.44 L405.94,463.16 L407.31,462.94 L408.69,462.79 L410.08,462.72 L411.46,462.70 L412.85,462.76 L414.23,462.88 L415.60,463.08 L416.96,463.34 L418.30,463.66 L419.63,464.05 L420.93,464.51 L422.20,465.02 L423.44,465.60 L424.65,466.24 L425.82,466.94 L426.95,467.69 L428.03,468.50 L429.07,469.36 L430.06,470.27 L431.00,471.23 L431.88,472.23 L432.71,473.28 L433.47,474.36 L434.18,475.48 L434.82,476.63 L435.39,477.81 L435.90,479.02 L436.34,480.25 L436.71,481.50 L437.01,482.77 L437.24,484.05 L437.40,485.34 L437.48,486.63 L437.50,487.93 L437.44,489.23 L437.30,490.52 L437.10,491.81 L436.82,493.08 L436.47,494.34 L436.06,495.57 L435.57,496.79 L435.02,497.98 L434.40,499.14 L433.71,500.27 L432.97,501.37 L432.16,502.43 L431.30,503.44 L430.38,504.41 L429.41,505.34 L428.39,506.22 L427.32,507.04 L426.20,507.81 L425.04,508.53 L423.85,509.19 L422.62,509.79 L421.35,510.33 L420.06,510.80 L418.75,511.22 L417.41,511.56 L416.06,511.84 L414.69,512.06 L413.31,512.21 L411.92,512.28 L410.54,512.30 L409.15,512.26 L407.76,512.17 L406.38,512.03 L404.99,511.85 L403.61,511.61 L402.23,511.33 L400.86,510.99 L399.49,510.60 L398.12,510.16 L396.77,509.67 L395.42,509.12 L394.08,508.52 L392.75,507.85 L391.44,507.13 L390.14,506.35 L388.86,505.51 L387.60,504.61 L386.36,503.64 L385.15,502.61 L383.97,501.52 L382.83,500.36 L381.72,499.13 L380.65,497.84 L379.63,496.47 L378.66,495.05 L377.74,493.55 L376.89,491.99" stroke="#ebe6df" stroke-width="2.60"/><ellipse cx="377.9" cy="493.9" rx="3.30" ry="2.00" transform="rotate(-118.8 377.9 493.9)" fill="#ebe6df"/><path d="M406.7,464.0 L414.3,464.0 L410.5,459.7 Z" fill="#ebe6df"/><circle cx="387.1" cy="478.3" r="4.60" fill="#ebe6df"/><circle cx="433.9" cy="473.0" r="3.50" fill="#ebe6df"/><circle cx="431.0" cy="503.2" r="3.50" fill="#ebe6df"/><circle cx="401.7" cy="512.2" r="3.50" fill="#ebe6df"/></g>
<path d="M387.10,478.30 L386.98,477.02 L387.60,475.86 L388.29,474.73 L389.03,473.63 L389.84,472.57 L390.70,471.56 L391.62,470.59 L392.59,469.66 L393.61,468.78 L394.68,467.96 L395.80,467.19 L396.96,466.47 L398.15,465.81 L399.38,465.21 L400.65,464.67 L401.94,464.20 L403.25,463.78 L404.59,463.44 L405.94,463.16 L407.31,462.94 L408.69,462.79 L410.08,462.72 L411.46,462.70 L412.85,462.76 L414.23,462.88 L415.60,463.08 L416.96,463.34 L418.30,463.66 L419.63,464.05 L420.93,464.51 L422.20,465.02 L423.44,465.60 L424.65,466.24 L425.82,466.94 L426.95,467.69 L428.03,468.50 L429.07,469.36 L430.06,470.27 L431.00,471.23 L431.88,472.23 L432.71,473.28 L433.47,474.36 L434.18,475.48 L434.82,476.63 L435.39,477.81 L435.90,479.02 L436.34,480.25 L436.71,481.50 L437.01,482.77 L437.24,484.05 L437.40,485.34 L437.48,486.63 L437.50,487.93 L437.44,489.23 L437.30,490.52 L437.10,491.81 L436.82,493.08 L436.47,494.34 L436.06,495.57 L435.57,496.79 L435.02,497.98 L434.40,499.14 L433.71,500.27 L432.97,501.37 L432.16,502.43 L431.30,503.44 L430.38,504.41 L429.41,505.34 L428.39,506.22 L427.32,507.04 L426.20,507.81 L425.04,508.53 L423.85,509.19 L422.62,509.79 L421.35,510.33 L420.06,510.80 L418.75,511.22 L417.41,511.56 L416.06,511.84 L414.69,512.06 L413.31,512.21 L411.92,512.28 L410.54,512.30 L409.15,512.26 L407.76,512.17 L406.38,512.03 L404.99,511.85 L403.61,511.61 L402.23,511.33 L400.86,510.99 L399.49,510.60 L398.12,510.16 L396.77,509.67 L395.42,509.12 L394.08,508.52 L392.75,507.85 L391.44,507.13 L390.14,506.35 L388.86,505.51 L387.60,504.61 L386.36,503.64 L385.15,502.61 L383.97,501.52 L382.83,500.36 L381.72,499.13 L380.65,497.84 L379.63,496.47 L378.66,495.05 L377.74,493.55 L376.89,491.99" stroke="#d5cec5" stroke-width="2.80"/>
<ellipse cx="377.9" cy="493.9" rx="3.00" ry="1.70" transform="rotate(-118.8 377.9 493.9)" fill="#d5cec5"/>
<path d="M407.0,464.0 L414.0,464.0 L410.5,460.0 Z" fill="#d5cec5"/>
<circle cx="387.1" cy="478.3" r="4.30" fill="#d5cec5"/>
<circle cx="433.9" cy="473.0" r="3.20" fill="#d5cec5"/>
<circle cx="431.0" cy="503.2" r="3.20" fill="#d5cec5"/>
<circle cx="401.7" cy="512.2" r="3.20" fill="#d5cec5"/>
<circle cx="387.3" cy="478.1" r="3.5" fill="#ebe6df"/>
<circle cx="387.1" cy="478.3" r="1.6" fill="#aea498"/>
</g>
</svg>
</body></html>
